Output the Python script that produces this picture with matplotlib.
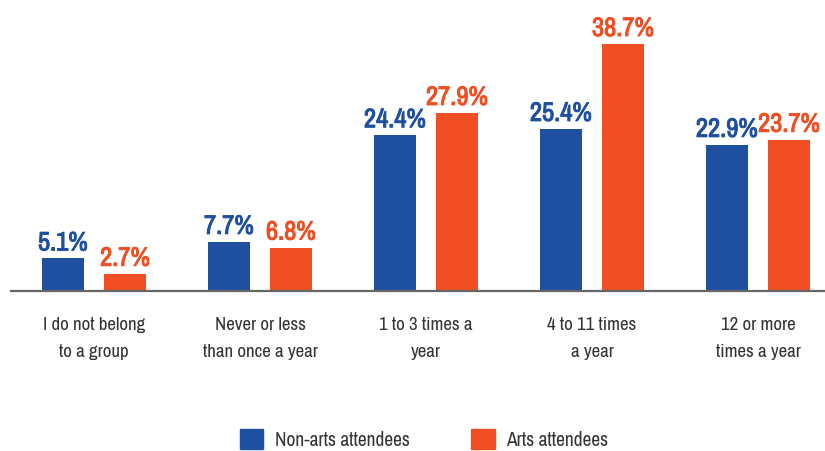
import numpy as np
import matplotlib
matplotlib.use('Agg')
import matplotlib.pyplot as plt
import matplotlib.patheffects as pe
from matplotlib import font_manager
from matplotlib.font_manager import FontProperties
from matplotlib.patches import Patch

categories = ['I do not belong\nto a group', 'Never or less\nthan once a year',
              '1 to 3 times a\nyear', '4 to 11 times\na year', '12 or more\ntimes a year']
non_arts = [5.1, 7.7, 24.4, 25.4, 22.9]
arts = [2.7, 6.8, 27.9, 38.7, 23.7]
series_names = ['Non-arts attendees', 'Arts attendees']

blue = '#1F50A0'
orange = '#F04E23'

# the original uses a condensed DIN-like face, look for a narrow family
fonts = [f for f in font_manager.fontManager.ttflist if f.style == 'normal']
names = sorted({f.name for f in fonts if 'Condensed' in f.name or 'Narrow' in f.name})
if 'Liberation Sans Narrow' in names:
    fam = 'Liberation Sans Narrow'
elif names:
    fam = names[0]
else:
    fam = None


def pick(fam, want_bold):
    files = [f.fname for f in fonts if f.name == fam and 'Italic' not in f.fname]
    if want_bold:
        hits = [p for p in files if 'Bold' in p and 'Semi' not in p and 'Extra' not in p]
    else:
        hits = [p for p in files if 'Regular' in p or 'Bold' not in p]
    return (hits or files)[0]


fake_bold = False
if fam:
    reg_fp = FontProperties(fname=pick(fam, False))
    bold_file = pick(fam, True)
    bold_fp = FontProperties(fname=bold_file)
    fake_bold = 'Bold' not in bold_file
else:
    reg_fp = FontProperties(family='Liberation Sans')
    bold_fp = FontProperties(family='Liberation Sans', weight='bold')

fig = plt.figure(figsize=(8.25, 4.52), dpi=100)
renderer = fig.canvas.get_renderer()


def fit_size(s, width_px, fp):
    # pick font size so the string is as wide as in the reference
    p = fp.copy()
    p.set_size(20)
    t = fig.text(0, 0, s, fontproperties=p)
    w = t.get_window_extent(renderer).width
    t.remove()
    return 20 * width_px / w


val_fp = bold_fp.copy()
val_fp.set_size(fit_size('38.7%', 62, bold_fp))
cat_fp = reg_fp.copy()
cat_fp.set_size(fit_size('than once a year', 115, reg_fp))
leg_fp = reg_fp.copy()
leg_fp.set_size(fit_size('Non-arts attendees', 135, reg_fp))

ax = fig.add_axes([0.0133, 0.354, 0.9867, 0.646])

x = np.arange(len(categories))
w = 0.253
off = 0.187
b1 = ax.bar(x - off, non_arts, w, color=blue)
b2 = ax.bar(x + off, arts, w, color=orange)

for bars, vals, c in [(b1, non_arts, blue), (b2, arts, orange)]:
    for b, v in zip(bars, vals):
        t = ax.annotate('%.1f%%' % v, (b.get_x() + b.get_width() / 2, v),
                        xytext=(0, 8), textcoords='offset pixels',
                        ha='center', va='baseline', color=c, fontproperties=val_fp)
        if fake_bold:
            t.set_path_effects([pe.withStroke(linewidth=0.7, foreground=c)])

ax.set_xlim(-0.5, 4.404)
ax.set_ylim(0, 45.75)
ax.set_yticks([])
ax.set_xticks(x)
ax.set_xticklabels(categories, fontproperties=cat_fp, color='#333333',
                   linespacing=1.85)
ax.tick_params(axis='x', length=0, pad=18)
for s in ['top', 'right', 'left']:
    ax.spines[s].set_visible(False)
ax.spines['bottom'].set_color('#666666')
ax.spines['bottom'].set_linewidth(1.6)

handles = [Patch(color=blue), Patch(color=orange)]
leg = fig.legend(handles, series_names, loc='center', bbox_to_anchor=(0.514, 0.026),
                 ncol=2, frameon=False, handlelength=1.2, handleheight=1.2,
                 handletextpad=0.6, columnspacing=3.2, prop=leg_fp)
for t in leg.get_texts():
    t.set_color('#333333')

plt.savefig('out.png', dpi=100)
